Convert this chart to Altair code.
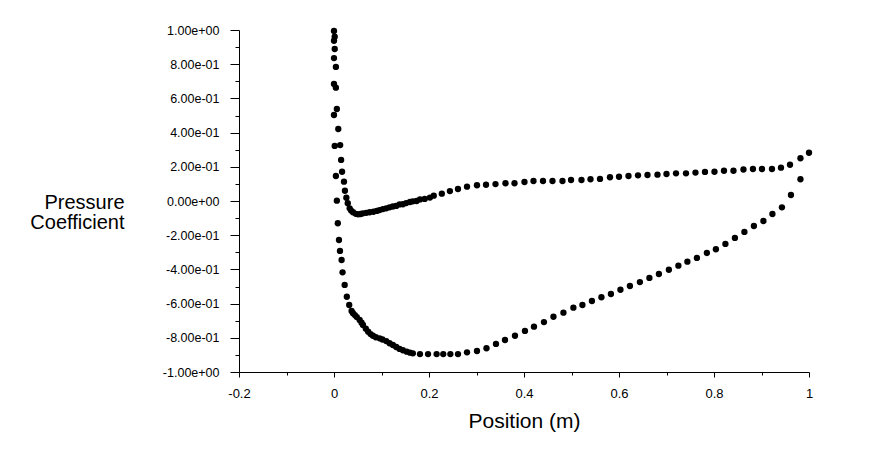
import altair as alt
import pandas as pd

# Suction side (lower curve), leading edge -> trailing edge
suction_x = [0.000, 0.000, 0.000, 0.000, 0.000, 0.0015, 0.004, 0.006, 0.008, 0.0105,
             0.0126, 0.016, 0.018, 0.0225, 0.027, 0.032, 0.037, 0.040, 0.044, 0.048,
             0.054, 0.058, 0.061, 0.067, 0.072, 0.077, 0.082, 0.088, 0.096, 0.102,
             0.110, 0.117, 0.124, 0.131, 0.138, 0.145, 0.153, 0.160, 0.166, 0.181,
             0.198, 0.216, 0.230, 0.245, 0.261, 0.280, 0.301, 0.321, 0.341, 0.360,
             0.381, 0.402, 0.421, 0.442, 0.462, 0.483, 0.504, 0.523, 0.543, 0.563,
             0.583, 0.603, 0.623, 0.644, 0.664, 0.684, 0.705, 0.725, 0.744, 0.764,
             0.785, 0.804, 0.824, 0.844, 0.864, 0.884, 0.904, 0.923, 0.943, 0.962,
             0.982]
suction_cp = [0.994, 0.937, 0.836, 0.684, 0.503, 0.322, 0.146, 0.002, -0.130, -0.228,
              -0.292, -0.345, -0.417, -0.491, -0.560, -0.608, -0.643, -0.656, -0.667, -0.679,
              -0.696, -0.712, -0.725, -0.747, -0.764, -0.778, -0.788, -0.797, -0.803, -0.810,
              -0.819, -0.832, -0.842, -0.854, -0.865, -0.873, -0.881, -0.887, -0.891, -0.895,
              -0.895, -0.895, -0.895, -0.895, -0.895, -0.885, -0.877, -0.861, -0.836, -0.813,
              -0.788, -0.760, -0.735, -0.708, -0.677, -0.653, -0.624, -0.608, -0.585, -0.563,
              -0.544, -0.519, -0.497, -0.474, -0.450, -0.427, -0.402, -0.378, -0.355, -0.333,
              -0.304, -0.282, -0.251, -0.216, -0.181, -0.146, -0.117, -0.076, -0.037, 0.035,
              0.127]

# Pressure side (upper curve), leading edge -> trailing edge
pressure_x = [0.0015, 0.0015, 0.004, 0.004, 0.006, 0.009, 0.013, 0.015, 0.017, 0.021,
              0.023, 0.026, 0.029, 0.033, 0.036, 0.040, 0.046, 0.051, 0.056, 0.061,
              0.068, 0.075, 0.083, 0.090, 0.096, 0.103, 0.110, 0.117, 0.124, 0.131,
              0.138, 0.145, 0.152, 0.160, 0.166, 0.174, 0.181, 0.191, 0.202, 0.210,
              0.227, 0.244, 0.261, 0.280, 0.301, 0.320, 0.340, 0.361, 0.380, 0.401,
              0.420, 0.440, 0.460, 0.481, 0.499, 0.521, 0.540, 0.560, 0.581, 0.600,
              0.620, 0.640, 0.660, 0.681, 0.700, 0.720, 0.741, 0.761, 0.781, 0.801,
              0.821, 0.841, 0.862, 0.882, 0.901, 0.922, 0.941, 0.960, 0.982, 1.000]
pressure_cp = [0.961, 0.889, 0.784, 0.663, 0.538, 0.421, 0.327, 0.240, 0.171, 0.113,
               0.060, 0.019, -0.013, -0.043, -0.056, -0.066, -0.075, -0.078, -0.076, -0.072,
               -0.069, -0.066, -0.063, -0.058, -0.053, -0.047, -0.043, -0.037, -0.032, -0.029,
               -0.020, -0.019, -0.012, -0.006, -0.002, 0.000, 0.009, 0.012, 0.020, 0.031,
               0.043, 0.058, 0.070, 0.084, 0.092, 0.095, 0.099, 0.104, 0.104, 0.111,
               0.117, 0.117, 0.117, 0.117, 0.123, 0.123, 0.127, 0.129, 0.139, 0.142,
               0.146, 0.150, 0.152, 0.154, 0.158, 0.162, 0.162, 0.166, 0.170, 0.171,
               0.177, 0.177, 0.184, 0.187, 0.187, 0.187, 0.195, 0.212, 0.250, 0.282]

x_tick_values = [-0.2, -0.1, 0.0, 0.1, 0.2, 0.3, 0.4, 0.5, 0.6, 0.7, 0.8, 0.9, 1.0]
x_tick_labels = ["-0.2", "", "0", "", "0.2", "", "0.4", "", "0.6", "", "0.8", "", "1"]
y_tick_values = [round(-1.0 + 0.1 * i, 1) for i in range(21)]
y_tick_labels = ["-1.00e+00", "", "-8.00e-01", "", "-6.00e-01", "", "-4.00e-01", "",
                 "-2.00e-01", "", "0.00e+00", "", "2.00e-01", "", "4.00e-01", "",
                 "6.00e-01", "", "8.00e-01", "", "1.00e+00"]

df = pd.DataFrame({
    "x": suction_x + pressure_x,
    "cp": suction_cp + pressure_cp,
})

def arr(labels):
    return "[" + ",".join("'" + s + "'" for s in labels) + "]"

x_label_expr = arr(x_tick_labels) + "[round(datum.value*10)+2]"
y_label_expr = arr(y_tick_labels) + "[round(datum.value*10)+10]"
major_test = "round(datum.value*10) % 2 == 0"

FONT = "Liberation Sans"

chart = alt.Chart(df).mark_point(
    shape="circle", filled=True, color="black", opacity=1, size=40
).encode(
    x=alt.X("x:Q",
            scale=alt.Scale(domain=[-0.2, 1.0], nice=False, zero=False),
            axis=alt.Axis(
                title="Position (m)",
                values=x_tick_values,
                labelExpr=x_label_expr,
                grid=False,
                domainColor="black",
                tickColor="black",
                tickSize={"condition": {"test": major_test, "value": 5}, "value": 3},
                labelColor="black",
                labelFont=FONT,
                labelFontSize=13,
                labelPadding=10,
                labelFlush=False,
                labelOverlap=False,
                titleFont=FONT,
                titleFontSize=21,
                titleFontWeight="normal",
                titleColor="black",
                titlePadding=10,
            )),
    y=alt.Y("cp:Q",
            scale=alt.Scale(domain=[-1.0, 1.0], nice=False, zero=False),
            axis=alt.Axis(
                title=["Pressure", "Coefficient"],
                values=y_tick_values,
                labelExpr=y_label_expr,
                grid=False,
                domainColor="black",
                tickColor="black",
                tickSize={"condition": {"test": major_test, "value": 9}, "value": 4},
                labelColor="black",
                labelFont=FONT,
                labelFontSize=12.5,
                labelPadding=11,
                labelFlush=False,
                labelOverlap=False,
                titleFont=FONT,
                titleFontSize=20,
                titleFontWeight="normal",
                titleColor="black",
                titleAngle=0,
                titleAlign="right",
                titleBaseline="alphabetic",
                titleLineHeight=20,
                titleX=-115,
                titleY=178.5,
            )),
).properties(
    width=570,
    height=342,
    autosize=alt.AutoSizeParams(type="none"),
    padding={"left": 231, "top": 22, "right": 50, "bottom": 80},
    background="white",
).configure_view(stroke=None)

chart.save("out.html", embed_options={"renderer": "svg", "actions": False})
